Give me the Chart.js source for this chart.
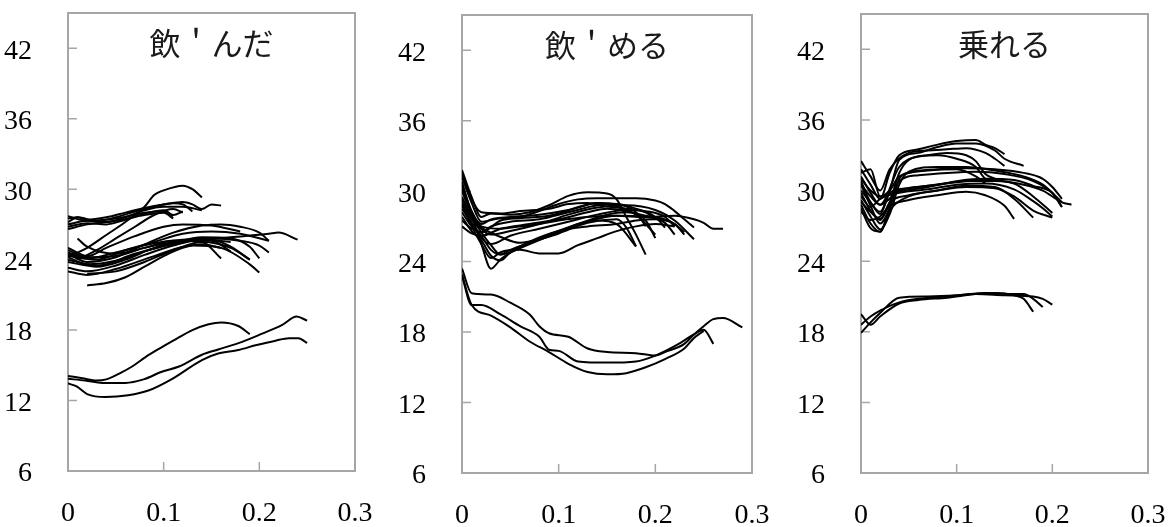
<!DOCTYPE html>
<html>
<head>
<meta charset="utf-8">
<script src="https://cdn.jsdelivr.net/npm/chart.js@4.4.1/dist/chart.umd.min.js"></script>
<style>
  html, body { margin: 0; padding: 0; background: #fff; }
  #wrap { position: relative; width: 1170px; height: 527px; overflow: hidden; }
  canvas { position: absolute; top: 0; }
</style>
</head>
<body>
<div id="wrap">
  <canvas id="c0" width="390" height="527" style="left:0px"></canvas>
  <canvas id="c1" width="390" height="527" style="left:390px"></canvas>
  <canvas id="c2" width="390" height="527" style="left:780px"></canvas>
</div>
<script>
// axis ticks and panel titles
const yTicks = [6, 12, 18, 24, 30, 36, 42];
const xTicks = [0, 0.1, 0.2, 0.3];
const titles = ['飲＇んだ', '飲＇める', '乗れる'];

// 飲'んだ : each curve is a list of [time, value] pairs
const nondaCurves = [
  [[0,27.5],[0.01,27.6],[0.02,27.4],[0.04,27.6],[0.06,28.0],[0.08,28.4],[0.10,28.7],[0.12,28.9],[0.13,28.7],[0.14,28.3],[0.15,28.7],[0.16,28.6]],
  [[0,27.2],[0.01,27.6],[0.03,27.3],[0.05,27.6],[0.07,28.1],[0.09,28.5],[0.11,28.8],[0.12,28.7],[0.13,28.1]],
  [[0,27.0],[0.02,27.3],[0.04,27.2],[0.06,27.6],[0.08,28.2],[0.10,28.5],[0.12,28.5],[0.14,28.2]],
  [[0,26.8],[0.02,27.1],[0.04,27.0],[0.06,27.4],[0.08,27.9],[0.10,28.2],[0.11,27.7]],
  [[0,27.7],[0.02,27.3],[0.05,27.5],[0.08,28.0],[0.10,28.1],[0.11,27.8],[0.12,28.1]],
  [[0,26.6],[0.02,27.0],[0.05,27.3],[0.08,27.8],[0.10,28.0],[0.11,27.5]],
  [[0,24.3],[0.01,24.6],[0.02,25.0],[0.04,26.1],[0.06,27.2],[0.08,28.5],[0.09,29.5],[0.10,29.9],[0.12,30.3],[0.13,30.0],[0.14,29.3]],
  [[0.01,24.0],[0.03,24.8],[0.05,25.8],[0.07,26.8],[0.09,27.8],[0.11,28.3],[0.12,28.0]],
  [[0,25.0],[0.02,24.3],[0.04,25.0],[0.07,26.0],[0.10,26.8],[0.12,27.0],[0.15,26.9],[0.18,26.4]],
  [[0,24.5],[0.02,23.8],[0.05,24.2],[0.08,25.3],[0.11,26.3],[0.14,26.9],[0.16,27.0],[0.18,26.8],[0.20,26.3],[0.21,25.6]],
  [[0,24.0],[0.03,23.5],[0.07,24.5],[0.12,25.5],[0.17,25.9],[0.21,26.2],[0.22,26.3],[0.24,25.7]],
  [[0,23.0],[0.02,22.7],[0.05,23.2],[0.09,24.3],[0.13,25.2],[0.16,25.0],[0.19,23.6],[0.20,22.9]],
  [[0.02,21.8],[0.04,22.0],[0.06,22.5],[0.08,23.4],[0.10,24.3],[0.12,25.0],[0.14,25.3],[0.16,25.0]],
  [[0.02,22.8],[0.05,23.0],[0.08,23.8],[0.11,24.8],[0.14,25.5],[0.17,25.0],[0.19,24.0]],
  [[0,24.3],[0.03,24.0],[0.06,24.8],[0.09,25.4],[0.12,25.7],[0.15,25.8],[0.18,25.6],[0.20,25.2],[0.21,24.6]],
  [[0.01,25.8],[0.02,25.1],[0.05,24.5],[0.08,25.0],[0.11,25.6],[0.14,25.5],[0.16,24.1]],
  [[0,24.8],[0.02,24.2],[0.05,24.3],[0.08,25.0],[0.12,25.6],[0.15,25.7],[0.17,25.1],[0.19,24.0]],
  [[0,23.8],[0.03,23.4],[0.06,24.0],[0.09,25.0],[0.12,25.6],[0.15,25.6],[0.17,24.7]],
  [[0,24.6],[0.02,24.1],[0.05,24.6],[0.09,25.5],[0.12,26.2],[0.15,26.4],[0.18,26.2],[0.21,25.6]],
  [[0,24.2],[0.02,23.6],[0.05,23.9],[0.08,24.7],[0.11,25.4],[0.14,25.9],[0.17,25.8],[0.19,25.1],[0.20,24.1]],
  [[0,23.3],[0.02,23.0],[0.05,23.5],[0.08,24.4],[0.11,25.2],[0.14,25.7],[0.17,25.5]],
  [[0,14.1],[0.015,13.9],[0.03,13.7],[0.04,13.8],[0.056,14.4],[0.067,14.9],[0.081,15.7],[0.095,16.4],[0.11,17.1],[0.13,18.0],[0.147,18.5],[0.16,18.65],[0.178,18.35],[0.19,17.65]],
  [[0,13.85],[0.018,13.7],[0.036,13.5],[0.06,13.5],[0.079,13.8],[0.098,14.45],[0.116,14.9],[0.14,15.9],[0.157,16.35],[0.182,17.0],[0.203,17.7],[0.224,18.45],[0.239,19.15],[0.25,18.8]],
  [[0,13.45],[0.009,13.2],[0.02,12.55],[0.039,12.3],[0.063,12.45],[0.084,12.85],[0.109,13.85],[0.14,15.45],[0.157,16.0],[0.178,16.3],[0.196,16.7],[0.217,17.1],[0.231,17.3],[0.241,17.3],[0.25,16.9]]
];

// 飲'める
const nomeruCurves = [
  [[0,31.8],[0.01,29.5],[0.02,27.8],[0.03,28.1],[0.05,28.0],[0.07,28.2],[0.09,28.8],[0.11,29.6],[0.13,29.9],[0.15,29.8],[0.16,29.3],[0.17,27.8],[0.18,26.3],[0.19,24.6]],
  [[0,31.2],[0.01,29.0],[0.02,27.4],[0.04,27.7],[0.06,27.8],[0.08,28.3],[0.10,28.9],[0.12,29.3],[0.14,29.4],[0.16,29.4],[0.18,29.4],[0.20,29.2],[0.21,28.9],[0.22,28.3],[0.23,27.6],[0.24,26.9]],
  [[0,30.5],[0.01,28.3],[0.02,27.0],[0.04,26.8],[0.06,27.0],[0.08,27.2],[0.10,27.5],[0.13,27.8],[0.16,27.9],[0.19,27.8],[0.22,27.9],[0.24,27.6],[0.25,27.3],[0.26,26.8],[0.27,26.8]],
  [[0,30.0],[0.01,28.0],[0.02,26.8],[0.03,26.3],[0.05,26.6],[0.08,27.2],[0.11,28.0],[0.14,28.6],[0.17,28.8],[0.20,28.4],[0.22,27.5],[0.24,25.9]],
  [[0,29.5],[0.01,27.8],[0.02,26.5],[0.03,25.4],[0.04,24.6],[0.05,24.8],[0.07,25.5],[0.10,26.5],[0.13,27.4],[0.16,27.9],[0.19,27.8],[0.21,27.3],[0.22,26.3]],
  [[0,28.8],[0.01,27.0],[0.02,25.5],[0.03,24.3],[0.04,24.8],[0.06,25.0],[0.08,24.7],[0.10,24.7],[0.12,25.4],[0.14,26.0],[0.16,26.6],[0.18,27.0],[0.20,27.2],[0.22,27.0]],
  [[0,30.8],[0.01,28.0],[0.02,25.5],[0.03,23.4],[0.04,24.2],[0.06,25.2],[0.09,26.3],[0.12,27.2],[0.15,28.0],[0.17,28.2],[0.19,27.5],[0.20,26.0]],
  [[0,29.0],[0.01,27.3],[0.02,26.2],[0.03,25.0],[0.04,24.6],[0.05,25.0],[0.07,25.6],[0.10,26.4],[0.13,27.3],[0.16,27.6],[0.17,26.9],[0.18,25.3]],
  [[0,28.2],[0.01,27.0],[0.02,26.5],[0.03,27.0],[0.05,27.4],[0.08,27.6],[0.11,28.2],[0.14,28.8],[0.16,28.9],[0.18,28.5],[0.20,27.8],[0.21,26.9]],
  [[0,27.5],[0.01,26.8],[0.02,26.5],[0.04,27.5],[0.06,27.7],[0.09,27.9],[0.12,28.6],[0.14,29.0],[0.16,28.7],[0.18,28.0],[0.20,26.3]],
  [[0,27.0],[0.01,26.4],[0.02,26.2],[0.04,26.8],[0.07,27.2],[0.10,27.6],[0.13,28.2],[0.15,28.5],[0.17,28.3],[0.19,27.9],[0.21,27.6],[0.22,27.2],[0.23,26.3]],
  [[0,30.2],[0.01,28.2],[0.02,27.2],[0.03,27.6],[0.05,27.8],[0.08,28.0],[0.11,28.4],[0.14,29.0],[0.16,28.9],[0.18,28.2],[0.19,27.0]],
  [[0,29.3],[0.01,27.6],[0.02,26.9],[0.04,26.1],[0.06,25.6],[0.08,25.9],[0.10,26.5],[0.12,27.2],[0.14,27.5],[0.16,27.2],[0.18,25.3]],
  [[0,28.5],[0.01,27.3],[0.02,26.0],[0.03,25.5],[0.05,26.2],[0.08,26.8],[0.11,27.4],[0.14,28.0],[0.17,28.4],[0.19,28.3],[0.21,27.8],[0.22,27.0]],
  [[0,31.5],[0.01,29.3],[0.02,28.2],[0.04,28.1],[0.06,28.3],[0.09,28.5],[0.11,28.9],[0.13,29.0],[0.15,28.7],[0.17,28.5],[0.19,28.2],[0.20,27.6]],
  [[0,27.8],[0.01,26.6],[0.02,25.8],[0.03,24.5],[0.04,24.1],[0.05,24.8],[0.07,25.7],[0.10,26.6],[0.13,27.0],[0.16,27.2],[0.18,27.5],[0.20,27.6],[0.22,27.2],[0.23,26.5]],
  [[0,23.4],[0.01,21.3],[0.03,21.2],[0.05,20.5],[0.07,19.5],[0.08,18.5],[0.09,17.9],[0.11,17.6],[0.13,16.6],[0.15,16.3],[0.18,16.2],[0.20,16.0],[0.21,16.3],[0.23,17.0],[0.24,17.8],[0.25,18.5],[0.26,19.1],[0.27,19.2],[0.29,18.4]],
  [[0,22.8],[0.01,20.3],[0.02,20.3],[0.04,19.5],[0.06,18.5],[0.08,17.6],[0.09,16.5],[0.10,16.4],[0.12,15.5],[0.15,15.4],[0.18,15.5],[0.20,16.0],[0.22,16.8],[0.24,17.8],[0.25,18.2],[0.26,17.0]],
  [[0,22.9],[0.01,20.3],[0.03,19.4],[0.05,18.4],[0.07,17.2],[0.09,16.3],[0.11,15.3],[0.13,14.6],[0.15,14.4],[0.17,14.5],[0.19,15.0],[0.21,15.7],[0.23,16.6],[0.24,17.5],[0.25,18.1]]
];

// 乗れる
const noreruCurves = [
  [[0,31.8],[0.01,30.5],[0.02,29.3],[0.03,31.5],[0.04,33.0],[0.06,33.5],[0.08,33.9],[0.10,34.2],[0.12,34.3],[0.13,33.9],[0.14,33.6],[0.15,33.1]],
  [[0,30.8],[0.01,29.0],[0.02,28.2],[0.03,30.0],[0.04,32.6],[0.06,33.2],[0.08,33.7],[0.10,34.0],[0.12,34.0],[0.14,33.4],[0.15,32.7],[0.17,32.1]],
  [[0,32.5],[0.01,31.2],[0.02,30.0],[0.03,31.8],[0.05,33.2],[0.07,33.4],[0.09,33.5],[0.11,33.6],[0.13,33.2],[0.14,32.7],[0.15,32.1]],
  [[0,29.8],[0.01,28.3],[0.02,27.6],[0.03,29.0],[0.04,31.5],[0.05,32.6],[0.07,33.0],[0.09,33.2],[0.11,33.0],[0.12,32.5],[0.13,31.4],[0.14,31.0]],
  [[0,31.2],[0.01,29.8],[0.02,28.8],[0.04,32.0],[0.06,32.9],[0.08,33.0],[0.10,32.7],[0.12,32.0],[0.13,31.0],[0.14,30.8]],
  [[0,30.5],[0.01,28.7],[0.02,27.2],[0.03,28.5],[0.04,31.0],[0.05,31.5],[0.08,31.8],[0.11,31.9],[0.14,31.8],[0.17,31.5],[0.19,31.0],[0.20,30.3],[0.21,29.3]],
  [[0,29.2],[0.01,27.8],[0.02,26.7],[0.03,28.0],[0.04,30.5],[0.05,31.6],[0.08,32.0],[0.11,32.0],[0.14,31.7],[0.17,31.2],[0.19,30.5],[0.21,29.0]],
  [[0,28.5],[0.01,26.8],[0.02,26.5],[0.03,28.6],[0.04,30.8],[0.06,31.3],[0.09,31.5],[0.12,31.6],[0.15,31.4],[0.18,30.8],[0.20,29.8],[0.21,28.6]],
  [[0,31.5],[0.01,31.8],[0.02,29.5],[0.03,30.0],[0.04,31.2],[0.07,31.7],[0.10,31.8],[0.12,31.2],[0.13,30.6]],
  [[0,30.0],[0.01,29.0],[0.02,28.0],[0.03,29.8],[0.05,30.2],[0.08,30.5],[0.11,30.8],[0.14,30.8],[0.17,30.5],[0.19,30.0],[0.21,29.0],[0.22,28.8]],
  [[0,29.0],[0.01,28.2],[0.02,27.5],[0.03,29.0],[0.05,29.6],[0.08,30.0],[0.11,30.3],[0.14,30.2],[0.16,29.5],[0.18,28.3],[0.20,27.7]],
  [[0,28.2],[0.01,27.5],[0.02,27.8],[0.03,28.7],[0.05,29.2],[0.08,29.6],[0.11,29.9],[0.13,29.6],[0.15,28.7],[0.16,27.6]],
  [[0,30.5],[0.01,29.5],[0.02,28.8],[0.04,30.0],[0.07,30.4],[0.10,30.7],[0.13,30.9],[0.16,30.6],[0.18,29.5],[0.20,28.1]],
  [[0,29.5],[0.01,28.6],[0.02,29.3],[0.04,29.8],[0.07,30.1],[0.10,30.5],[0.13,30.6],[0.16,30.1],[0.18,29.1],[0.19,28.5],[0.20,27.8]],
  [[0,31.0],[0.01,30.0],[0.02,29.5],[0.04,29.9],[0.07,30.3],[0.10,30.8],[0.13,31.0],[0.16,30.9],[0.18,30.4],[0.20,29.8],[0.21,28.6]],
  [[0,28.8],[0.01,27.2],[0.02,26.5],[0.03,28.3],[0.05,29.5],[0.08,30.0],[0.11,30.4],[0.14,30.3],[0.16,29.3],[0.18,27.7]],
  [[0,19.5],[0.01,18.6],[0.02,19.3],[0.04,20.4],[0.06,20.7],[0.09,20.9],[0.12,21.2],[0.14,21.3],[0.16,21.1],[0.17,20.8],[0.18,19.7]],
  [[0,17.9],[0.01,18.8],[0.02,19.6],[0.04,20.9],[0.07,21.0],[0.10,21.1],[0.13,21.3],[0.16,21.2],[0.17,21.2],[0.18,20.8],[0.19,20.1]],
  [[0,18.6],[0.01,19.3],[0.02,19.8],[0.04,20.5],[0.06,20.8],[0.09,21.0],[0.12,21.2],[0.15,21.1],[0.18,21.0],[0.19,20.8],[0.20,20.3]]
];

const panelCurves = [nondaCurves, nomeruCurves, noreruCurves];

// plot box of each canvas, in canvas pixels
const boxes = [
  { left: 68, right: 355, top: 13, bottom: 471 },
  { left: 72, right: 362, top: 15, bottom: 473 },
  { left: 81, right: 368, top: 14, bottom: 473 }
];

// gray frame, inner tick marks and the title inside the plot
const framePlugin = {
  id: 'frame',
  beforeDatasetsDraw(chart) {
    const { ctx, chartArea: a, scales: { x, y } } = chart;
    ctx.save();
    ctx.strokeStyle = '#a6a6a6';
    ctx.lineWidth = 2;
    ctx.strokeRect(a.left, a.top, a.right - a.left, a.bottom - a.top);
    ctx.lineWidth = 1.5;
    ctx.beginPath();
    yTicks.forEach(v => {
      const py = y.getPixelForValue(v);
      ctx.moveTo(a.left, py);
      ctx.lineTo(a.left + 9, py);
    });
    xTicks.forEach(v => {
      const px = x.getPixelForValue(v);
      ctx.moveTo(px, a.bottom);
      ctx.lineTo(px, a.bottom - 9);
    });
    ctx.stroke();
    ctx.restore();
  },
  afterDraw(chart) {
    const { ctx, chartArea: a } = chart;
    ctx.save();
    ctx.fillStyle = '#1a1a1a';
    ctx.font = '31px "Noto Sans CJK JP"';
    ctx.textAlign = 'center';
    ctx.textBaseline = 'middle';
    ctx.fillText(chart.options.plugins.frame.title, (a.left + a.right) / 2, a.top + 30);
    ctx.restore();
  }
};

const tickFont = { family: '"Liberation Serif", "Times New Roman", serif', size: 28 };

panelCurves.forEach((curves, i) => {
  const box = boxes[i];
  new Chart(document.getElementById('c' + i), {
    type: 'line',
    data: {
      datasets: curves.map(c => ({
        data: c,
        borderColor: '#000',
        borderWidth: 2,
        pointRadius: 0,
        fill: false,
        cubicInterpolationMode: 'monotone'
      }))
    },
    options: {
      responsive: false,
      animation: false,
      devicePixelRatio: 1,
      layout: { padding: { left: 0, right: 390 - box.right, top: box.top, bottom: 0 } },
      plugins: {
        legend: { display: false },
        tooltip: { enabled: false },
        frame: { title: titles[i] }
      },
      scales: {
        x: {
          type: 'linear',
          min: 0,
          max: 0.3,
          afterBuildTicks: s => { s.ticks = xTicks.map(v => ({ value: v })); },
          afterFit: s => {
            s.height = 527 - box.bottom;
            s.paddingLeft = 0; s.paddingRight = 0;
          },
          grid: { display: false },
          border: { display: false },
          ticks: {
            padding: 18,
            color: '#000',
            font: tickFont,
            maxRotation: 0,
            autoSkip: false,
            callback: v => String(v)
          }
        },
        y: {
          type: 'linear',
          min: 6,
          max: 45,
          afterBuildTicks: s => { s.ticks = yTicks.map(v => ({ value: v })); },
          afterFit: s => {
            s.width = box.left;
            s.paddingTop = 0; s.paddingBottom = 0;
          },
          grid: { display: false },
          border: { display: false },
          ticks: {
            padding: 28,
            labelOffset: 3,
            color: '#000',
            font: tickFont,
            callback: v => String(v)
          }
        }
      }
    },
    plugins: [framePlugin]
  });
});
</script>
</body>
</html>
